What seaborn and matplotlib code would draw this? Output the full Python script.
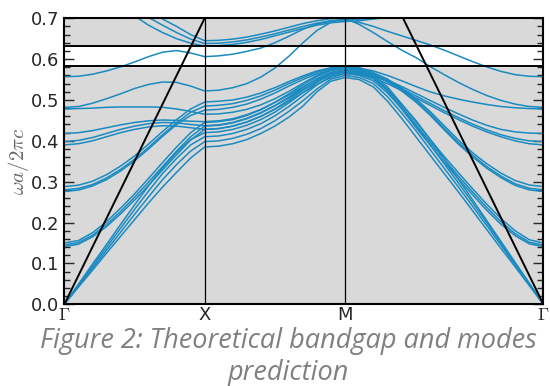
import numpy as np
import pandas as pd
import matplotlib
matplotlib.use('Agg')
import matplotlib.pyplot as plt
from matplotlib.ticker import MultipleLocator
import seaborn as sns

sns.set_style('ticks')
plt.rcParams['font.family'] = ['DejaVu Sans']
plt.rcParams['mathtext.fontset'] = 'cm'

BAND_COLOR = '#1a8ac0'
BG_COLOR = '#d9d9d9'
CAPTION_COLOR = '#808080'

# k-path positions (Gamma - X - M - Gamma), sampled along the path
K_PATH = [0, .05, .1, .15, .2, .25, .3, .35, .4, .45, .5,
          .55, .6, .65, .7, .75, .8, .85, .9, .95, 1.0,
          1.0505, 1.101, 1.1515, 1.202, 1.2525, 1.303, 1.3535,
          1.404, 1.4545, 1.505, 1.5555, 1.606, 1.6565, 1.707]
K_TICKS = [0, 0.5, 1.0, 1.707]
K_LABELS = [r'$\Gamma$', 'X', 'M', r'$\Gamma$']

# band frequencies (omega a / 2 pi c): G-X + X-M + M-G
band_a1 = ([0, .042, .083, .125, .166, .207, .248, .287, .323, .358, .385]
           + [.387, .393, .403, .418, .436, .458, .485, .52, .546, .555]
           + [.55, .532, .497, .455, .41, .365, .32, .275, .229, .183, .137, .092, .046, 0])
band_a2 = ([0, .044, .088, .132, .176, .22, .263, .305, .342, .375, .398]
           + [.40, .406, .416, .43, .449, .472, .498, .527, .551, .56]
           + [.555, .54, .508, .468, .425, .379, .333, .287, .24, .193, .145, .097, .048, 0])
band_a3 = ([0, .0465, .093, .139, .186, .232, .277, .32, .357, .39, .41]
           + [.412, .418, .428, .442, .461, .484, .51, .537, .558, .565]
           + [.56, .547, .517, .479, .437, .391, .344, .297, .249, .2, .15, .1, .05, 0])
band_a4 = ([0, .049, .098, .146, .195, .243, .29, .334, .372, .403, .42]
           + [.422, .428, .438, .452, .47, .493, .518, .543, .562, .568]
           + [.564, .553, .525, .49, .45, .404, .356, .306, .256, .205, .154, .103, .052, 0])
band_b1 = ([.141, .147, .165, .19, .221, .255, .291, .329, .366, .402, .428]
           + [.43, .436, .446, .46, .478, .50, .524, .547, .564, .57]
           + [.566, .552, .522, .478, .433, .39, .348, .307, .268, .23, .196, .168, .148, .141])
band_b2 = ([.145, .151, .169, .195, .227, .262, .299, .337, .375, .41, .436]
           + [.438, .444, .454, .468, .486, .507, .53, .552, .568, .574]
           + [.57, .556, .527, .484, .44, .397, .355, .314, .275, .237, .202, .173, .152, .145])
band_b3 = ([.15, .156, .175, .202, .235, .27, .308, .347, .385, .42, .445]
           + [.447, .452, .462, .476, .494, .515, .537, .557, .572, .577]
           + [.573, .56, .532, .49, .447, .404, .362, .322, .283, .245, .21, .18, .158, .15])
band_c1 = ([.276, .2795, .2895, .305, .326, .351, .38, .411, .44, .462, .475]
           + [.477, .482, .49, .502, .517, .534, .55, .564, .574, .578]
           + [.573, .561, .545, .522, .495, .463, .427, .392, .361, .333, .31, .291, .28, .276])
band_c2 = ([.28, .2835, .293, .309, .33, .355, .384, .415, .444, .47, .485]
           + [.487, .491, .499, .51, .524, .54, .555, .568, .577, .58]
           + [.576, .564, .548, .526, .499, .467, .431, .396, .365, .337, .314, .295, .284, .28])
band_c3 = ([.288, .2915, .301, .317, .338, .363, .392, .423, .452, .478, .495]
           + [.497, .50, .507, .517, .53, .545, .559, .571, .579, .582]
           + [.579, .567, .551, .529, .503, .472, .437, .402, .371, .344, .321, .303, .292, .288])
band_d1 = ([.39, .393, .40, .41, .42, .428, .434, .437, .436, .432, .428]
           + [.43, .436, .446, .46, .477, .497, .518, .538, .555, .565]
           + [.562, .553, .54, .523, .505, .487, .469, .452, .436, .422, .41, .40, .393, .39])
band_d2 = ([.398, .401, .408, .418, .428, .436, .442, .445, .444, .44, .437]
           + [.439, .445, .455, .469, .486, .505, .526, .546, .562, .57]
           + [.567, .558, .545, .528, .51, .492, .474, .457, .441, .427, .415, .406, .40, .398])
band_d3 = ([.418, .42, .425, .432, .439, .445, .449, .451, .45, .448, .447]
           + [.449, .454, .464, .477, .494, .512, .532, .551, .566, .572]
           + [.569, .561, .549, .533, .516, .499, .482, .466, .451, .438, .428, .422, .419, .418])
band_e1 = ([.478, .479, .48, .482, .483, .483, .483, .482, .478, .472, .465]
           + [.466, .47, .477, .488, .503, .521, .541, .56, .574, .58]
           + [.578, .571, .56, .547, .533, .52, .51, .502, .495, .489, .484, .481, .479, .478])
band_e2 = ([.482, .484, .492, .503, .515, .528, .538, .544, .543, .534, .522]
           + [.524, .53, .54, .556, .578, .607, .64, .67, .69, .70]
           + [.685, .665, .643, .622, .604, .582, .562, .543, .526, .511, .499, .49, .484, .482])
band_f1 = ([.557, .558, .563, .571, .581, .593, .606, .617, .621, .615, .606]
           + [.608, .612, .619, .627, .64, .656, .673, .686, .693, .695]
           + [.69, .68, .668, .657, .646, .635, .622, .608, .594, .581, .57, .562, .558, .557])
band_u1 = ([.78, .777, .767, .752, .732, .706, .683, .665, .65, .639, .632]
           + [.633, .636, .641, .648, .657, .666, .675, .683, .689, .692]
           + [.694, .698, .702, .708, .716, .726, .737, .748, .758, .767, .773, .777, .779, .78])
band_u2 = ([.80, .797, .787, .771, .75, .725, .702, .683, .665, .649, .638]
           + [.639, .642, .647, .654, .662, .671, .68, .688, .694, .697]
           + [.698, .70, .703, .707, .713, .72, .73, .743, .757, .77, .781, .79, .797, .80])
band_u3 = ([.82, .817, .807, .79, .768, .742, .718, .698, .68, .66, .645]
           + [.646, .649, .654, .661, .669, .678, .687, .694, .699, .70]
           + [.703, .708, .716, .727, .74, .755, .77, .785, .798, .808, .815, .819, .82, .82])

BANDS = [band_a1, band_a2, band_a3, band_a4, band_b1, band_b2, band_b3,
         band_c1, band_c2, band_c3, band_d1, band_d2, band_d3,
         band_e1, band_e2, band_f1, band_u1, band_u2, band_u3]

# light line and band gap edges
LIGHT_K = [0, 0.5]
LIGHT_W = [0, 0.7]
LIGHT_K_RIGHT = [1.707, 1.207]
GAP = [0.583, 0.633]

df = pd.DataFrame({
    'k': np.tile(K_PATH, len(BANDS)),
    'w': np.concatenate(BANDS),
    'band': np.repeat(np.arange(len(BANDS)), len(K_PATH)),
})

fig = plt.figure(figsize=(5.5, 3.86), dpi=100)
ax = fig.add_axes([0.117, 0.2117, 0.871, 0.741])
ax.set_facecolor(BG_COLOR)

ax.axhspan(GAP[0], GAP[1], color='white', zorder=0.5)
sns.lineplot(data=df, x='k', y='w', units='band', estimator=None,
             color=BAND_COLOR, lw=1.1, ax=ax, zorder=2)
for g in GAP:
    ax.axhline(g, color='black', lw=1.4, zorder=3)
for kk in K_TICKS[1:3]:
    ax.axvline(kk, color='black', lw=0.9, zorder=3)
ax.plot(LIGHT_K, LIGHT_W, color='black', lw=1.4, zorder=3)
ax.plot(LIGHT_K_RIGHT, LIGHT_W, color='black', lw=1.4, zorder=3)

ax.set_xlim(K_TICKS[0], K_TICKS[-1])
ax.set_ylim(0, 0.7)
ax.set_xticks(K_TICKS)
ax.set_xticklabels(K_LABELS)
ax.yaxis.set_major_locator(MultipleLocator(0.1))
ax.yaxis.set_minor_locator(MultipleLocator(0.02))
ax.tick_params(axis='y', which='both', direction='in', left=True, right=True, labelsize=13)
ax.tick_params(axis='y', which='major', length=7, width=1)
ax.tick_params(axis='y', which='minor', length=4, width=1)
ax.tick_params(axis='x', length=0, labelsize=13, pad=1)
ax.set_xlabel('')
ax.set_ylabel(r'$\omega a/2\pi c$', fontsize=15, color='#666666', labelpad=0)
for s in ax.spines.values():
    s.set_linewidth(1.5)
    s.set_color('black')

fig.text(0.525, 0.117, 'Figure 2: Theoretical bandgap and modes', ha='center', va='center',
         color=CAPTION_COLOR, style='italic', family='Open Sans', fontsize=19.5)
fig.text(0.525, 0.033, 'prediction', ha='center', va='center',
         color=CAPTION_COLOR, style='italic', family='Open Sans', fontsize=19.5)

fig.savefig('out.png', dpi=100)
